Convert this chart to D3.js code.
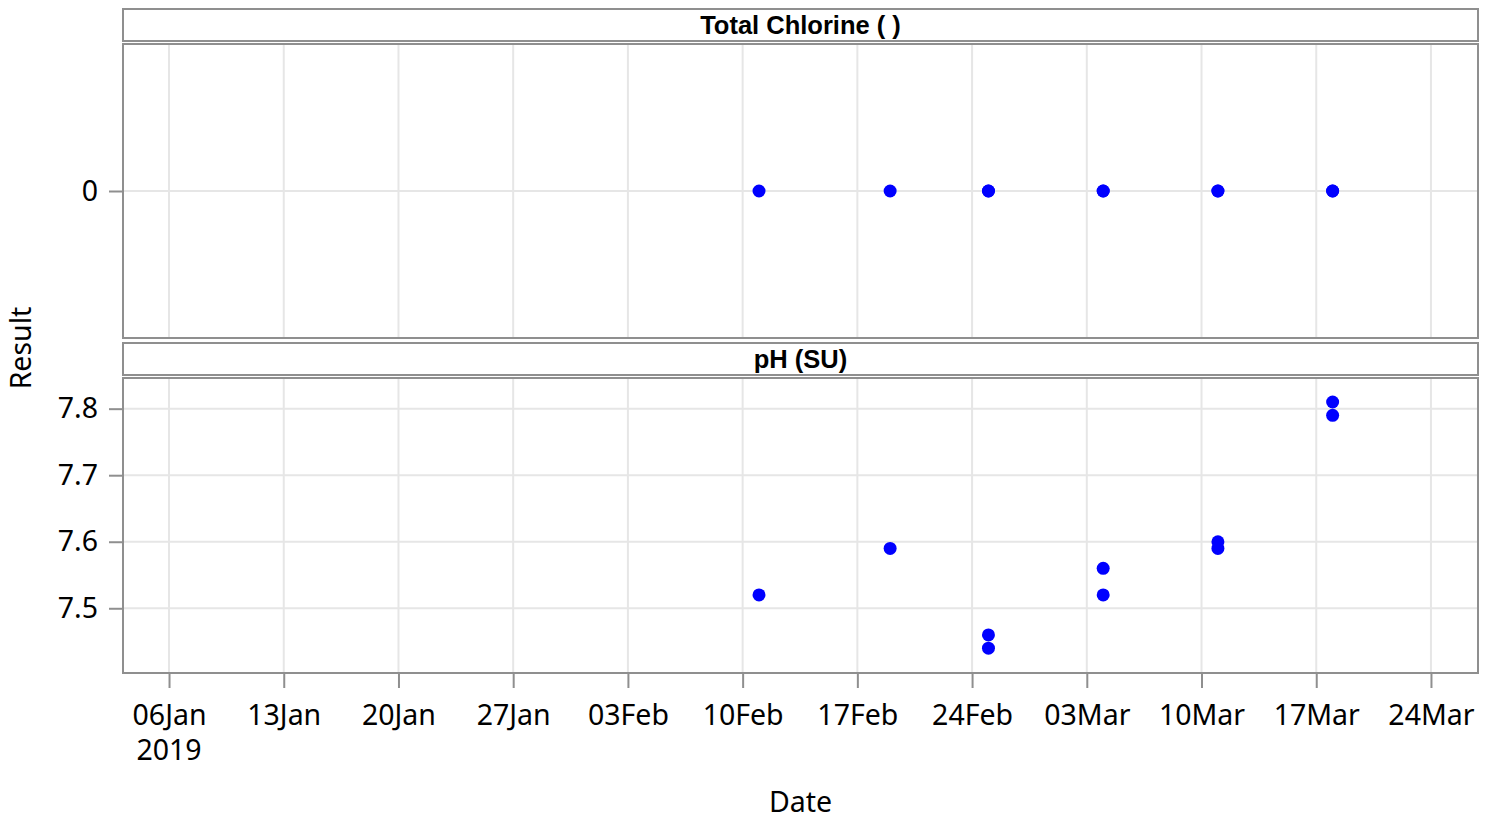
<!DOCTYPE html>
<html>
<head>
<meta charset="utf-8">
<script src="https://cdn.jsdelivr.net/npm/d3@7"></script>
<style>
  html, body { margin: 0; padding: 0; background: #fff; }
  svg { display: block; }
</style>
</head>
<body>
<svg id="chart" width="1493" height="823"></svg>
<script>
// Sample results by parameter
const panelTitles = ["Total Chlorine ( )", "pH (SU)"];

const chlorineDates = ["2019-02-11", "2019-02-19", "2019-02-25", "2019-02-25", "2019-03-04", "2019-03-04", "2019-03-11", "2019-03-11", "2019-03-18", "2019-03-18"];
const chlorineValues = [0, 0, 0, 0, 0, 0, 0, 0, 0, 0];

const phDates = ["2019-02-11", "2019-02-19", "2019-02-25", "2019-02-25", "2019-03-04", "2019-03-04", "2019-03-11", "2019-03-11", "2019-03-18", "2019-03-18"];
const phValues = [7.52, 7.59, 7.46, 7.44, 7.56, 7.52, 7.60, 7.59, 7.81, 7.79];

// Axis ranges and ticks
const xDomain = ["2019-01-03T04:36:00Z", "2019-03-26T20:53:00Z"];
const xTicks = ["2019-01-06", "2019-01-13", "2019-01-20", "2019-01-27", "2019-02-03", "2019-02-10", "2019-02-17", "2019-02-24", "2019-03-03", "2019-03-10", "2019-03-17", "2019-03-24"];
const chlorineDomain = [-1, 1];
const chlorineTicks = [0];
const phDomain = [7.4027, 7.8461];
const phTicks = [7.5, 7.6, 7.7, 7.8];

const parseDay = s => new Date(s.length === 10 ? s + "T00:00:00Z" : s);

const svg = d3.select("#chart");
const left = 123, right = 1478;
const borderColor = "#8f8f8f";
const gridColor = "#e6e6e6";
const tickFont = "'Noto Sans', 'DejaVu Sans', sans-serif";
const tickSize = 28.5;

const x = d3.scaleUtc().domain(xDomain.map(parseDay)).range([left, right]);
const tickDates = xTicks.map(parseDay);

const panels = [
  { title: panelTitles[0], stripTop: 9, top: 44, bottom: 338,
    domain: chlorineDomain, ticks: chlorineTicks, fmt: d3.format("d"),
    dates: chlorineDates, values: chlorineValues },
  { title: panelTitles[1], stripTop: 343, top: 378, bottom: 673,
    domain: phDomain, ticks: phTicks, fmt: d3.format(".1f"),
    dates: phDates, values: phValues }
];

panels.forEach((p, i) => {
  const y = d3.scaleLinear().domain(p.domain).range([p.bottom, p.top]);
  const g = svg.append("g");

  // strip header
  g.append("rect")
    .attr("x", left).attr("y", p.stripTop)
    .attr("width", right - left).attr("height", p.top - 3 - p.stripTop)
    .attr("fill", "#fff").attr("stroke", borderColor).attr("stroke-width", 2);
  g.append("text")
    .attr("x", (left + right) / 2).attr("y", p.stripTop + (p.top - 3 - p.stripTop) / 2)
    .attr("dy", "0.35em")
    .attr("text-anchor", "middle")
    .attr("font-family", "'Liberation Sans', Arial, sans-serif")
    .attr("font-weight", "bold")
    .attr("font-size", 25.5)
    .attr("fill", "#000")
    .text(p.title);

  // gridlines
  g.append("g").selectAll("line").data(tickDates).join("line")
    .attr("x1", d => x(d)).attr("x2", d => x(d))
    .attr("y1", p.top).attr("y2", p.bottom)
    .attr("stroke", gridColor).attr("stroke-width", 2);
  g.append("g").selectAll("line").data(p.ticks).join("line")
    .attr("x1", left).attr("x2", right)
    .attr("y1", d => y(d)).attr("y2", d => y(d))
    .attr("stroke", gridColor).attr("stroke-width", 2);

  // y axis
  const yAxis = d3.axisLeft(y).tickValues(p.ticks).tickFormat(p.fmt).tickSize(14).tickPadding(11);
  const ya = g.append("g").attr("transform", `translate(${left},0)`).call(yAxis);
  ya.select(".domain").remove();
  ya.selectAll(".tick line").attr("stroke", borderColor).attr("stroke-width", 2);
  ya.selectAll(".tick text")
    .attr("font-family", tickFont).attr("font-size", tickSize).attr("fill", "#000");

  // points
  const pts = p.dates.map((d, k) => ({ date: parseDay(d), value: p.values[k] }));
  g.append("g").selectAll("circle").data(pts).join("circle")
    .attr("cx", d => x(d.date))
    .attr("cy", d => y(d.value))
    .attr("r", 6.5)
    .attr("fill", "#0000ff");

  // panel frame
  g.append("rect")
    .attr("x", left).attr("y", p.top)
    .attr("width", right - left).attr("height", p.bottom - p.top)
    .attr("fill", "none").attr("stroke", borderColor).attr("stroke-width", 2);

  // x axis under the last panel
  if (i === panels.length - 1) {
    const fmt = d => d3.utcFormat("%d%b")(d);
    const xAxis = d3.axisBottom(x).tickValues(tickDates).tickFormat(fmt).tickSize(14).tickPadding(17);
    const xa = g.append("g").attr("transform", `translate(0,${p.bottom + 1})`).call(xAxis);
    xa.select(".domain").remove();
    xa.selectAll(".tick line").attr("stroke", borderColor).attr("stroke-width", 2);
    xa.selectAll(".tick text")
      .attr("font-family", tickFont).attr("font-size", tickSize).attr("fill", "#000");
    // year below the first tick label
    g.append("text")
      .attr("x", x(tickDates[0]))
      .attr("y", p.bottom + 87)
      .attr("text-anchor", "middle")
      .attr("font-family", tickFont).attr("font-size", tickSize).attr("fill", "#000")
      .text(d3.utcFormat("%Y")(tickDates[0]));
  }
});

// axis titles
svg.append("text")
  .attr("x", (left + right) / 2).attr("y", 812)
  .attr("text-anchor", "middle")
  .attr("font-family", tickFont).attr("font-size", tickSize).attr("fill", "#000")
  .text("Date");
svg.append("text")
  .attr("transform", "translate(31,348) rotate(-90)")
  .attr("text-anchor", "middle")
  .attr("font-family", tickFont).attr("font-size", tickSize).attr("fill", "#000")
  .text("Result");
</script>
</body>
</html>
